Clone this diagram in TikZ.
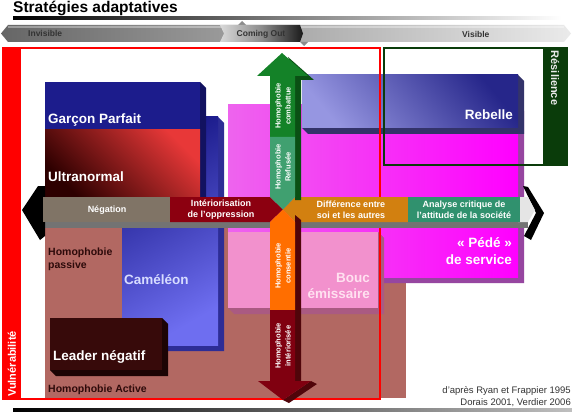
\documentclass[tikz,border=0pt]{standalone}
\usepackage{fontspec}
\setmainfont{Liberation Sans}
\definecolor{brownbg}{RGB}{178,104,98}
\definecolor{gpblue}{RGB}{28,28,140}
\definecolor{gpside}{RGB}{18,18,96}
\definecolor{camside}{RGB}{45,45,150}
\definecolor{camA}{RGB}{24,24,135}
\definecolor{camB}{RGB}{110,110,240}
\definecolor{rebA}{RGB}{150,150,225}
\definecolor{rebB}{RGB}{38,38,138}
\definecolor{ultA}{RGB}{232,56,56}
\definecolor{ultB}{RGB}{45,0,0}
\definecolor{mag}{RGB}{255,0,255}
\definecolor{magL}{RGB}{238,100,238}
\definecolor{magside}{RGB}{150,70,160}
\definecolor{bouc}{RGB}{242,145,205}
\definecolor{boucside}{RGB}{170,90,130}
\definecolor{bouctxt}{RGB}{255,225,240}
\definecolor{leader}{RGB}{55,10,10}
\definecolor{leaderside}{RGB}{28,4,4}
\definecolor{negc}{RGB}{128,116,102}
\definecolor{intc}{RGB}{140,0,16}
\definecolor{difc}{RGB}{210,128,16}
\definecolor{anac}{RGB}{48,145,110}
\definecolor{combc}{RGB}{20,130,40}
\definecolor{combside}{RGB}{10,80,20}
\definecolor{refc}{RGB}{64,160,112}
\definecolor{consc}{RGB}{255,110,0}
\definecolor{intzc}{RGB}{128,0,16}
\definecolor{vshadow}{RGB}{80,5,10}
\definecolor{resgreen}{RGB}{10,60,10}
\definecolor{homtxt}{RGB}{45,10,10}
\definecolor{camtxt}{RGB}{215,220,255}
\newcommand{\tdside}[5]{\fill[#5] (#3,#2) -- (#3+6,#2+6) -- (#3+6,#4+6) -- (#1+6,#4+6) -- (#1,#4) -- (#3,#4) -- cycle;}
\begin{document}
\begin{tikzpicture}[x=1pt,y=-1pt,
  lab/.style={font=\bfseries\fontsize{13.5}{17}\selectfont, text=white, inner sep=0pt},
  hlab/.style={font=\bfseries\fontsize{9}{11}\selectfont, text=white, inner sep=0pt, align=center},
  vlab/.style={font=\bfseries\fontsize{7.5}{10}\selectfont, text=white, inner sep=0pt, align=center, rotate=90},
  homlab/.style={font=\bfseries\fontsize{10.5}{13}\selectfont, text=homtxt, inner sep=0pt, align=left},
  barlab/.style={font=\bfseries\fontsize{8.5}{10}\selectfont, text=black!80, inner sep=0pt}]
\useasboundingbox (0,0) rectangle (572,414);
\fill[white] (0,0) rectangle (572,414);
% title
\node[anchor=base west, font=\bfseries\fontsize{15.5}{16}\selectfont, inner sep=0pt] (title) at (13,12.5) {Stratégies adaptatives};
\shade[left color=black, right color=white] (13,16.5) rectangle (562,20);
% top bar
\shade[left color=black!60, right color=black!8] (1,33.5) -- (8,25) -- (564,25) -- (571,33.5) -- (564,42) -- (8,42) -- cycle;
\fill[white, opacity=0.35] (8,26) rectangle (564,28);
\fill[black!45] (238,25) -- (242,21) -- (246,25) -- cycle;
\fill[black!45] (300,42) -- (304,46) -- (308,42) -- cycle;
\shade[left color=black!15, right color=black!90, middle color=black!45] (220,25) -- (300,25) -- (303,33.5) -- (300,42) -- (220,42) -- (224,33.5) -- cycle;
\node[barlab, anchor=base west] (invis) at (28,37) {Invisible};
\node[barlab, anchor=base] (comout) at (261,37) {Coming Out};
\node[barlab, anchor=base west] (vis) at (462,37.5) {Visible};
% brown background
\fill[brownbg] (45,225) rectangle (406,398);
% Cameleon
\tdside{122}{117}{218}{345}{camside}
\shade[top color=camA, bottom color=camB, shading angle=30] (122,117) rectangle (218,345);
% magenta
\tdside{228}{105}{518}{277}{magside}
\shade[left color=magL, right color=mag] (228,105) rectangle (518,277);
% Bouc
\tdside{228}{232}{378}{308}{boucside}
\fill[bouc] (228,232) rectangle (378,308);
% Rebelle
\tdside{302}{75}{518}{128}{gpside!70!gray}
\shade[top color=rebB, bottom color=rebA, shading angle=-50] (302,75) rectangle (518,128);
% Garcon parfait + Ultranormal
\tdside{45}{82}{200}{197}{gpside}
\fill[gpblue] (45,82) rectangle (200,130);
\shade[top color=ultA, bottom color=ultB, shading angle=-45] (45,130) rectangle (200,197);
% Leader
\tdside{50}{318}{162}{370}{leaderside}
\fill[leader] (50,318) rectangle (162,370);
% red frame
\fill[red] (3,48) rectangle (21,399);
\draw[red, line width=2pt] (3,48) rectangle (380,399);
% green frame
\draw[resgreen, line width=2pt] (384,48) rectangle (567,165);
\fill[resgreen] (543,48) rectangle (568,166);
% horizontal arrow
\fill[black!55] (43,222) rectangle (528,228);
\fill[black] (22,210) -- (38,186) -- (45,186) -- (45,236) -- (40,240) -- cycle;
\fill[black] (523,186) -- (528,187) -- (544,213) -- (531,240) -- (524,236) -- (536,213) -- cycle;
\fill[black!10] (518,197) -- (528,197) -- (535,210) -- (528,222) -- (518,222) -- cycle;
\fill[negc] (43,197) rectangle (170,222);
\fill[intc] (170,197) -- (270,197) -- (283,209.5) -- (270,222) -- (170,222) -- cycle;
\fill[difc] (295,197) -- (408,197) -- (408,222) -- (295,222) -- (283,209.5) -- cycle;
\fill[anac] (408,197) rectangle (520,222);
% vertical arrow
\fill[combside] (288,57) -- (314,80) -- (301,80) -- (301,200) -- (295,200) -- (295,76) -- cycle;
\fill[vshadow] (295,215) -- (301,220) -- (301,384) -- (295,384) -- cycle;
\fill[vshadow] (283,400) -- (311,381) -- (317,384) -- (289,403) -- cycle;
\fill[combc] (282,53) -- (308,76) -- (295,76) -- (295,137) -- (270,137) -- (270,76) -- (257,76) -- cycle;
\fill[refc] (270,137) -- (295,137) -- (295,197) -- (283,209.5) -- (270,197) -- cycle;
\fill[consc] (270,222) -- (283,209.5) -- (295,222) -- (295,310) -- (270,310) -- cycle;
\fill[intzc] (270,310) -- (295,310) -- (295,381) -- (311,381) -- (283,400) -- (258,381) -- (270,381) -- cycle;
% texts
\node[lab, anchor=base west] (gp) at (48,124) {Garçon Parfait};
\node[lab, anchor=base west] (ultra) at (48,181) {Ultranormal};
\node[lab, anchor=base east] (reb) at (513,120) {Rebelle};
\node[lab, anchor=base west, text=camtxt] (cam) at (124,284) {Caméléon};
\node[lab, anchor=base west] (lead) at (53,360) {Leader négatif};
\node[lab, anchor=base east] (pede1) at (512,247) {« Pédé »};
\node[lab, anchor=base east] (pede2) at (512,264) {de service};
\node[lab, anchor=base east, text=bouctxt] (bouc1) at (370,282) {Bouc};
\node[lab, anchor=base east, text=bouctxt] (bouc2) at (370,298) {émissaire};
\node[homlab, anchor=base west] (hp1) at (48,255) {Homophobie};
\node[homlab, anchor=base west] (hp2) at (48,268) {passive};
\node[homlab, anchor=base west] (ha) at (48,392) {Homophobie Active};
\node[hlab] (neg) at (107,210) {Négation};
\node[hlab] (inter) at (221,210) {Intériorisation\\de l'oppression};
\node[hlab] (diff) at (351,210) {Différence entre\\soi et les autres};
\node[hlab] (ana) at (464,210) {Analyse critique de\\l'attitude de la société};
\node[vlab] (vc) at (283,106) {Homophobie\\combattue};
\node[vlab] (vr) at (283,167) {Homophobie\\Refusée};
\node[vlab] (vs) at (283,266) {Homophobie\\consentie};
\node[vlab] (vi) at (283,346) {Homophobie\\intériorisée};
\node[font=\bfseries\fontsize{11}{12}\selectfont, text=black!8, rotate=-90, inner sep=0pt] (res) at (555,78) {Résilience};
\node[font=\bfseries\fontsize{11}{12}\selectfont, text=white, rotate=90, inner sep=0pt, anchor=west] (vul) at (12,397) {Vulnérabilité};
\node[font=\fontsize{9.5}{11}\selectfont, text=black!80, anchor=base east, inner sep=0pt] (cred1) at (571,393) {d'après Ryan et Frappier 1995};
\node[font=\fontsize{9.5}{11}\selectfont, text=black!80, anchor=base east, inner sep=0pt] (cred2) at (571,405) {Dorais 2001, Verdier 2006};
\shade[left color=black, right color=black!25] (13,408.5) rectangle (572,411.5);
\end{tikzpicture}
\end{document}
